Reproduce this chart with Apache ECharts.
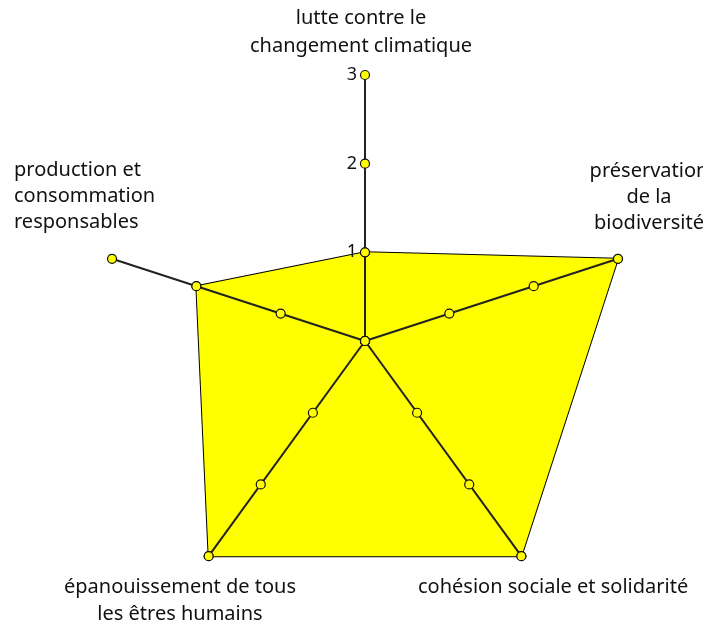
<!DOCTYPE html>
<html lang="fr">
<head>
<meta charset="UTF-8">
<title>Radar</title>
<script src="https://cdn.jsdelivr.net/npm/echarts@6/dist/echarts.min.js"></script>
</head>
<body style="margin:0;background:#fff">
<div id="container" style="width:703px;height:625px"></div>
<script>
// axes in ECharts order: top first, then counterclockwise
var indicatorNames = [
    'lutte contre le\nchangement climatique',
    'production et\nconsommation\nresponsables',
    'épanouissement de tous\nles êtres humains',
    'cohésion sociale et solidarité',
    'préservation\nde la\nbiodiversité'
];
var scores = [1, 2, 3, 3, 3];
var tickValues = [0, 1, 2, 3];
var axisMax = 3;

// where each axis title sits (same order as indicatorNames)
var namePlaces = [
    { x: 361, y: 32, align: 'center', lh: 28 },
    { x: 14, y: 196, align: 'left', lh: 26 },
    { x: 180, y: 601, align: 'center', lh: 27 },
    { x: 418, y: 587, align: 'left', lh: 26 },
    { x: 649, y: 197, align: 'center', lh: 26 }
];

var myChart = echarts.init(document.getElementById('container'));

var textFont = '20px "Noto Sans"';

myChart.setOption({
    backgroundColor: '#ffffff',
    animation: false,
    radar: {
        center: [365, 341],
        radius: 266,
        startAngle: 90,
        shape: 'polygon',
        splitNumber: 3,
        z: 2,
        indicator: indicatorNames.map(function (n, i) {
            var ind = { name: n, min: 0, max: axisMax };
            // only the top axis carries the 1 / 2 / 3 labels
            if (i === 0) {
                ind.axisLabel = { show: true, showMinLabel: false };
            }
            return ind;
        }),
        axisName: { show: false },
        axisLine: { lineStyle: { color: '#222', width: 2 } },
        axisTick: { show: false },
        axisLabel: {
            show: false,
            color: '#111',
            fontSize: 18,
            fontFamily: 'Noto Sans',
            margin: 8
        },
        splitLine: { show: false },
        splitArea: { show: false }
    },
    series: [{
        type: 'radar',
        z: 1,
        silent: true,
        symbol: 'circle',
        symbolSize: 9,
        lineStyle: { color: '#000', width: 2 },
        areaStyle: { color: '#ffff00', opacity: 1 },
        itemStyle: { color: '#ffff00', borderColor: '#000', borderWidth: 1 },
        data: [{ value: scores }]
    }, {
        // the little round marks at each step of every axis
        type: 'radar',
        z: 3,
        silent: true,
        symbol: 'circle',
        symbolSize: 9,
        lineStyle: { width: 0, opacity: 0 },
        itemStyle: { color: '#ffff00', borderColor: '#111', borderWidth: 1.2 },
        data: tickValues.map(function (v) {
            return { value: indicatorNames.map(function () { return v; }) };
        })
    }],
    graphic: indicatorNames.map(function (n, i) {
        var p = namePlaces[i];
        return {
            type: 'text',
            x: p.x,
            y: p.y,
            silent: true,
            style: {
                text: n,
                font: textFont,
                fill: '#111',
                align: p.align,
                verticalAlign: 'middle',
                lineHeight: p.lh
            }
        };
    })
});
</script>
</body>
</html>
